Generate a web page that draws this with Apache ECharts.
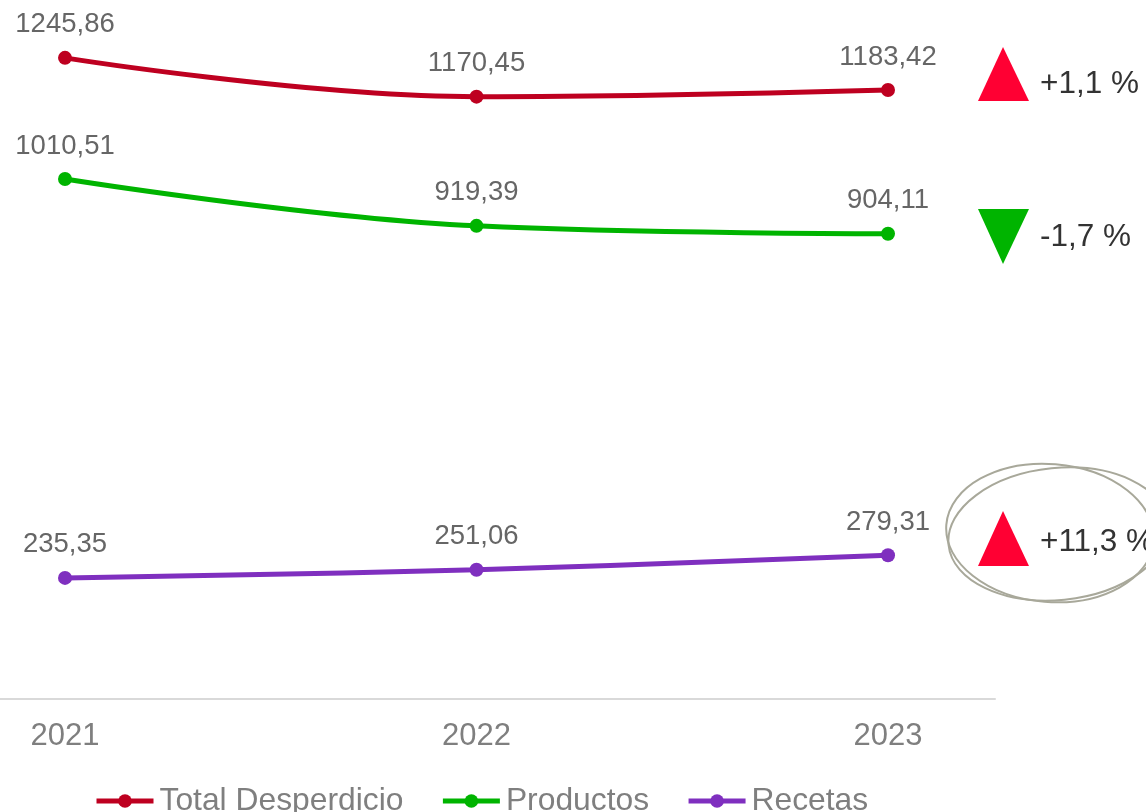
<!DOCTYPE html>
<html>
<head>
<meta charset="utf-8">
<script src="https://cdn.jsdelivr.net/npm/echarts@6/dist/echarts.min.js"></script>
<style>
html,body{margin:0;padding:0;background:#fff;}
#chart{width:1146px;height:812px;}
</style>
</head>
<body>
<div id="chart"></div>
<script>
var categories = ["2021", "2022", "2023"];
var seriesNames = ["Total Desperdicio", "Productos", "Recetas"];
var totalDesperdicio = [1245.86, 1170.45, 1183.42];
var productos = [1010.51, 919.39, 904.11];
var recetas = [235.35, 251.06, 279.31];
var changeLabels = ["+1,1 %", "-1,7 %", "+11,3 %"];

var colors = ["#BE0020", "#00B400", "#7F2FBF"];
var FONT = "'Liberation Sans', Arial, sans-serif";

function toPairs(arr){ return arr.map(function(v,i){ return [i, v]; }); }
function fmt(p){ return p.value[1].toFixed(2).replace('.', ','); }

var allValues = [totalDesperdicio, productos, recetas];

var chart = echarts.init(document.getElementById('chart'));
var series = allValues.map(function(vals, k){
  return {
    name: seriesNames[k],
    type: 'line',
    data: toPairs(vals),
    smooth: 0.4,
    symbol: 'circle',
    symbolSize: 14,
    lineStyle: { width: 5, color: colors[k] },
    itemStyle: { color: colors[k] },
    label: {
      show: true, position: 'top', distance: 12,
      formatter: fmt, color: '#666666', fontSize: 27.5, fontFamily: FONT
    }
  };
});

var option = {
  backgroundColor: '#ffffff',
  animation: false,
  grid: { left: 0, right: 151, top: 30, bottom: 113, containLabel: false },
  xAxis: {
    type: 'value',
    min: -0.158, max: 2.26,
    axisLine: { show: true, lineStyle: { color: '#D9D9D9', width: 2 } },
    axisTick: { show: false },
    splitLine: { show: false },
    axisLabel: {
      customValues: [0, 1, 2],
      formatter: function(v){ return categories[Math.round(v)]; },
      color: '#7F7F7F', fontSize: 31, fontFamily: FONT, margin: 22
    }
  },
  yAxis: { type: 'value', min: 0, max: 1300, show: false, splitLine: { show: false } },
  legend: {
    left: 89, top: 780,
    itemWidth: 57, itemHeight: 17, itemGap: 37,
    lineStyle: { width: 5 },
    textStyle: { color: '#7F7F7F', fontSize: 31.8, fontFamily: FONT, padding: [0,0,0,1] },
    data: seriesNames
  },
  series: series,
  graphic: [
    { type: 'polygon', shape: { points: [[1003,47],[1029,101],[978,101]] }, style: { fill: '#FF0033' } },
    { type: 'polygon', shape: { points: [[978,209],[1029,209],[1003,264]] }, style: { fill: '#00B400' } },
    { type: 'polygon', shape: { points: [[1003,511],[1029,566],[978,566]] }, style: { fill: '#FF0033' } },
    { type: 'text', left: 1040, top: 68, style: { text: changeLabels[0], fill: '#333333', font: '31.5px ' + FONT } },
    { type: 'text', left: 1040, top: 221, style: { text: changeLabels[1], fill: '#333333', font: '31.5px ' + FONT } },
    { type: 'text', left: 1040, top: 526, style: { text: changeLabels[2], fill: '#333333', font: '31.5px ' + FONT } },
    { type: 'ellipse', shape: { cx: 1050, cy: 533, rx: 104, ry: 69 }, rotation: -0.08, originX: 1050, originY: 533,
      style: { fill: 'none', stroke: '#A8A89A', lineWidth: 2 } },
    { type: 'ellipse', shape: { cx: 1058, cy: 534, rx: 110, ry: 66 }, rotation: 0.1, originX: 1058, originY: 534,
      style: { fill: 'none', stroke: '#A8A89A', lineWidth: 2 } }
  ]
};
chart.setOption(option);
</script>
</body>
</html>
